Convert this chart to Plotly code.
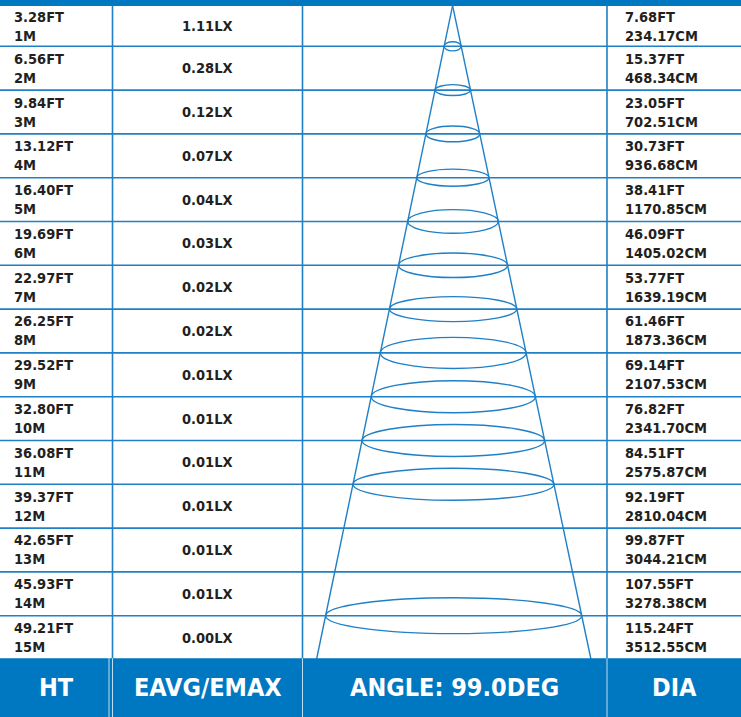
import plotly.graph_objects as go

# ---------------- data ----------------
ht_ft = ["3.28", "6.56", "9.84", "13.12", "16.40", "19.69", "22.97", "26.25",
         "29.52", "32.80", "36.08", "39.37", "42.65", "45.93", "49.21"]
ht_m = [1, 2, 3, 4, 5, 6, 7, 8, 9, 10, 11, 12, 13, 14, 15]
eavg_lx = ["1.11", "0.28", "0.12", "0.07", "0.04", "0.03", "0.02", "0.02",
           "0.01", "0.01", "0.01", "0.01", "0.01", "0.01", "0.00"]
dia_ft = ["7.68", "15.37", "23.05", "30.73", "38.41", "46.09", "53.77", "61.46",
          "69.14", "76.82", "84.51", "92.19", "99.87", "107.55", "115.24"]
dia_cm = ["234.17", "468.34", "702.51", "936.68", "1170.85", "1405.02", "1639.19",
          "1873.36", "2107.53", "2341.70", "2575.87", "2810.04", "3044.21",
          "3278.38", "3512.55"]
headers = ["HT", "EAVG/EMAX", "ANGLE: 99.0DEG", "DIA"]
# rows at which a beam ellipse is drawn and the ellipse heights (in metres of the row scale)
ellipse_rows = [1, 2, 3, 4, 5, 6, 7, 8, 9, 10, 11, 14]
ellipse_h = [0.21, 0.25, 0.36, 0.39, 0.54, 0.56, 0.57, 0.71, 0.73, 0.73, 0.73, 0.82]

# ---------------- styling / layout constants ----------------
W, H = 741, 717
Y_TOP, Y_BOT = -0.057, 16.313          # y axis in metres (rows), reversed
BAR_Y = 0.08                           # bottom of top blue bar
N = len(ht_m)
COL_X = [112.5, 302.5, 607]            # column boundaries (x axis 0..741)
BLUE = "#0078C1"
LINE = "#1F80C6"
TXT = "#231F20"
FONT = "DejaVu Sans Condensed, DejaVu Sans, sans-serif"
APEX = (452.6, 0.07)
CONE_L, CONE_R = 316.5, 591.0          # cone bottom x at row N

fig = go.Figure()
shapes = []
annotations = []

# top bar
shapes.append(dict(type="rect", xref="x", yref="y", x0=0, x1=W, y0=Y_TOP, y1=BAR_Y,
                   fillcolor=BLUE, line_width=0, layer="above"))
# horizontal row lines
for k in range(1, N):
    shapes.append(dict(type="line", xref="x", yref="y", x0=0, x1=W, y0=k, y1=k,
                       line=dict(color=LINE, width=1.6)))
# vertical column lines
for cx in COL_X:
    shapes.append(dict(type="line", xref="x", yref="y", x0=cx, x1=cx, y0=BAR_Y, y1=N,
                       line=dict(color=LINE, width=1.6)))

# cone lines
for bx in (CONE_L, CONE_R):
    fig.add_trace(go.Scatter(x=[APEX[0], bx], y=[APEX[1], N], mode="lines",
                             line=dict(color=LINE, width=1.4), hoverinfo="skip",
                             showlegend=False))

# ellipses
for r, h in zip(ellipse_rows, ellipse_h):
    t = (r - APEX[1]) / (N - APEX[1])
    xl = APEX[0] + (CONE_L - APEX[0]) * t
    xr = APEX[0] + (CONE_R - APEX[0]) * t
    shapes.append(dict(type="circle", xref="x", yref="y", x0=xl, x1=xr,
                       y0=r - h / 2, y1=r + h / 2,
                       line=dict(color=LINE, width=1.4)))

# header band
shapes.append(dict(type="rect", xref="x", yref="y", x0=0, x1=W, y0=N - 0.03, y1=Y_BOT,
                   fillcolor=BLUE, line_width=0, layer="above"))
for cx in [109.0, 112.5, 302.5, 607]:
    shapes.append(dict(type="line", xref="x", yref="y", x0=cx, x1=cx, y0=N - 0.03, y1=Y_BOT,
                       line=dict(color="rgba(255,255,255,0.75)", width=1), layer="above"))


def f(size, color=TXT):
    return dict(family=FONT, size=size, color=color, weight="bold")


# cell texts
fs = 14.5
dy = 9.5
for i, m in enumerate(ht_m):
    yc = (max(m - 1, BAR_Y) + m) / 2
    annotations.append(dict(x=12, y=yc, xref="x", yref="y", text=f"{ht_ft[i]}FT",
                            xanchor="left", yanchor="middle", yshift=dy, showarrow=False,
                            font=f(fs)))
    annotations.append(dict(x=12, y=yc, xref="x", yref="y", text=f"{m}M",
                            xanchor="left", yanchor="middle", yshift=-dy, showarrow=False,
                            font=f(fs)))
    annotations.append(dict(x=(COL_X[0] + COL_X[1]) / 2, y=yc, xref="x", yref="y",
                            text=f"{eavg_lx[i]}LX", xanchor="center", yanchor="middle",
                            showarrow=False, font=f(fs)))
    annotations.append(dict(x=623, y=yc, xref="x", yref="y", text=f"{dia_ft[i]}FT",
                            xanchor="left", yanchor="middle", yshift=dy, showarrow=False,
                            font=f(fs)))
    annotations.append(dict(x=623, y=yc, xref="x", yref="y", text=f"{dia_cm[i]}CM",
                            xanchor="left", yanchor="middle", yshift=-dy, showarrow=False,
                            font=f(fs)))

# header texts
bounds = [0] + COL_X + [W]
for j, htxt in enumerate(headers):
    annotations.append(dict(x=(bounds[j] + bounds[j + 1]) / 2, y=15.64, xref="x", yref="y",
                            text=htxt, xanchor="center", yanchor="middle", showarrow=False,
                            font=f(25, "white")))

fig.update_layout(
    width=W, height=H, margin=dict(l=0, r=0, t=0, b=0),
    paper_bgcolor="white", plot_bgcolor="white",
    xaxis=dict(range=[0, W], visible=False, fixedrange=True),
    yaxis=dict(range=[Y_BOT, Y_TOP], visible=False, fixedrange=True),
    shapes=shapes, annotations=annotations, showlegend=False,
)
fig.write_html("out.html", config={"displayModeBar": False},
               post_script="document.body.style.margin='0';document.body.style.overflow='hidden';")
